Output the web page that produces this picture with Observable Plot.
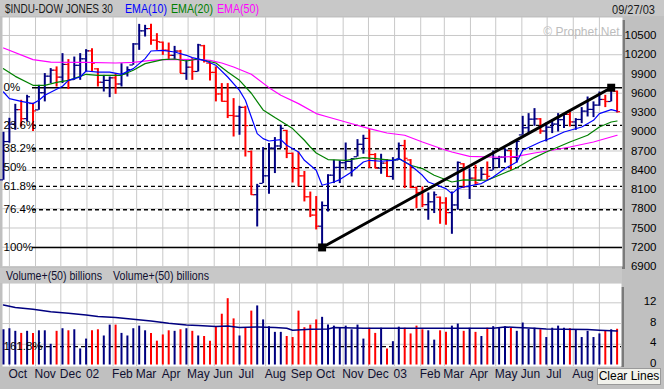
<!DOCTYPE html>
<html><head><meta charset="utf-8">
<script src="https://cdn.jsdelivr.net/npm/d3@7"></script>
<script src="https://cdn.jsdelivr.net/npm/@observablehq/plot@0.6"></script>
<style>
html,body{margin:0;padding:0;background:#c0c0c0;}
#wrap{position:relative;width:664px;height:389px;overflow:hidden;background:#c0c0c0;font-family:"Liberation Sans",Arial,sans-serif;}
.abs{position:absolute;}
#btn{left:597px;top:368px;width:64px;height:17px;background:#f2f2ec;border:1px solid #9a9a9a;box-sizing:border-box;font-size:12px;line-height:15px;text-align:center;color:#000;}
.fit{font-family:"Liberation Sans",Arial,sans-serif;font-size:12px;}
</style></head><body><div id="wrap">
<svg class="abs" style="left:0;top:0" width="664" height="16">
<rect width="664" height="16" fill="#c8c8c8"/>
<text class="fit" data-x="5" data-y="13" data-w="108" fill="#1a1a1a">$INDU-DOW JONES 30</text>
<text class="fit" data-x="125" data-y="13" data-w="42" fill="#0000ff">EMA(10)</text>
<text class="fit" data-x="171" data-y="13" data-w="42" fill="#008000">EMA(20)</text>
<text class="fit" data-x="217" data-y="13" data-w="42" fill="#ff00ff">EMA(50)</text>
<text class="fit" data-x="612" data-y="13.5" data-w="43" fill="#1a1a1a">09/27/03</text>
</svg>
<div class="abs" style="left:622px;top:20px;width:3px;height:249px;background:#7a7a7a"></div>
<div class="abs" id="price" style="left:0;top:16px"></div>
<svg class="abs" style="left:0;top:268px" width="622" height="15">
<rect width="622" height="15" fill="#c8c8c8"/>
<text class="fit" data-x="6" data-y="11.5" data-w="96" fill="#101030">Volume+(50) billions</text>
<text class="fit" data-x="113" data-y="11.5" data-w="96" fill="#101030">Volume+(50) billions</text>
</svg>
<div class="abs" style="left:621px;top:287px;width:3px;height:80px;background:#7a7a7a"></div>
<div class="abs" id="vol" style="left:0;top:283px"></div>
<div class="abs" id="btn">Clear Lines</div>
</div>
<script>
// ---- data (weekly bars, first week starting Mon 2001-09-24) ----
const firstWeek = "2001-09-24";
const highs = [8991,9209,9427,9490,9568,9443,9723,9906,9984,10010,
10217,10124,10164,10217,10279,10295,9984,9878,9853,9906,
10061,10010,10373,10673,10658,10673,10528,10398,10382,10330,
10268,10113,10139,10362,10346,10071,10010,9750,9750,9516,
9396,9396,8700,8180,8753,8815,8909,9100,9022,8669,
8684,8380,8060,7990,7906,8330,8555,8545,8824,8581,
8877,8945,9033,8659,8649,8566,8597,8824,8866,8566,
8139,8139,8046,8061,7983,7973,8061,8529,8503,8420,
8477,8441,8529,8700,8617,8736,8710,8866,9240,9282,
9360,9205,9136,9189,9282,9282,9323,9205,9376,9541,
9465,9619,9568,9690,9634];
const lows = [8244,8820,9022,9074,9152,9004,9334,9465,9750,9697,
9750,9657,9801,9801,9931,9931,9697,9619,9531,9583,
9697,9853,10035,10268,10476,10346,10268,10190,10124,10124,
9906,9801,9801,9931,10071,9791,9465,9465,9205,8918,
8945,8606,8010,7516,8192,8026,8348,8736,8581,8201,
8139,7906,7662,7470,7197,7750,8192,8192,8399,8296,
8606,8650,8426,8426,8337,8286,8244,8555,8114,8114,
7802,7817,7621,7725,7558,7543,7402,7776,8114,7945,
8166,8244,8244,8399,8426,8513,8399,8513,8945,8971,
9085,8960,8841,8971,8996,9049,9074,9022,9126,9230,
9220,9396,9376,9465,9292];
const opens = [8250,8847,9119,9344,9204,9440,9340,9608,9866,9959,
9851,10049,9812,10035,10136,10260,9980,9771,9800,9840,
9744,9903,10040,10368,10572,10607,10427,10395,10271,10190,
10257,9910,10006,9939,10340,10070,9925,9589,9474,9253,
9243,9380,8690,8019,8195,8313,8745,8778,9020,8663,
8427,8312,7986,7701,7528,7850,8323,8444,8517,8538,
8610,8804,8896,8645,8433,8511,8303,8560,8785,8560,
8131,8053,7864,7908,7980,7891,7740,7859,8500,8145,
8277,8245,8337,8400,8582,8604,8705,8601,8950,9062,
9196,9200,9011,9070,9119,9188,9270,9153,9191,9321,
9348,9415,9503,9471,9630];
const closes = [8847,9119,9344,9204,9545,9324,9608,9866,9959,9851,
10049,9812,10035,10136,10260,10068,9771,9800,9840,9744,
9903,9968,10368,10572,10607,10427,10404,10271,10190,10257,
9910,10006,9939,10353,10105,9925,9589,9474,9253,9243,
9380,9096,8019,8150,8313,8745,8778,9053,8663,8427,
8312,7986,7701,7528,7850,8323,8444,8517,8538,8579,
8804,8896,8645,8433,8511,8303,8560,8785,8586,8131,
8053,7864,7908,8018,7891,7740,7859,8522,8145,8277,
8203,8337,8306,8582,8604,8713,8601,8850,9062,9196,
9200,9011,9070,9119,9188,9270,9153,9191,9321,9348,
9415,9503,9471,9644,9313];
// volume, billions
const volumes = [6.8,7.0,6.5,6.1,6.5,6.1,6.6,6.6,4.0,6.5,
7.0,6.6,6.8,3.1,5.0,6.6,6.8,5.6,7.7,7.7,
6.1,5.6,7.0,7.5,6.6,6.1,4.6,5.8,6.6,6.5,
6.8,7.0,6.5,5.6,5.5,4.6,7.4,9.8,12.8,8.9,
5.6,7.1,10.4,11.4,8.7,7.4,6.3,6.3,5.5,5.3,
10.4,7.2,7.7,8.7,9.2,7.7,7.5,7.1,7.5,6.8,
7.7,5.0,7.1,6.1,7.1,3.1,4.5,7.3,7.1,6.0,
7.5,6.8,6.6,4.8,6.6,6.3,7.5,7.9,6.5,7.1,
6.3,5.5,7.1,7.4,7.2,7.4,7.1,6.5,8.1,6.9,
7.1,6.8,5.3,7.1,7.5,7.1,7.0,6.8,5.3,6.5,
5.3,6.0,6.6,6.8,6.9];
// moving averages: [week index, value]
const ema10 = [[0,9619],[1,9516],[3,9474],[5,9438],[6,9490],[7,9568],[10,9708],[11,9801],[13,9853],[14,9946],[16,9930],[18,9930],[20,9895],[22,9983],[24,10139],[25,10258],[27,10268],[29,10242],[31,10191],[32,10155],[34,10113],[36,10035],[38,9853],[40,9645],[41,9490],[42,9230],[43,8971],[44,8893],[45,8856],[47,8878],[48,8789],[50,8684],[51,8555],[53,8399],[54,8166],[56,8217],[57,8254],[59,8373],[61,8529],[62,8555],[64,8540],[66,8555],[67,8582],[69,8477],[71,8321],[72,8217],[75,8114],[76,8036],[77,8114],[78,8139],[81,8192],[83,8295],[85,8426],[87,8529],[88,8711],[91,8840],[93,8909],[95,8996],[98,9074],[100,9178],[101,9283],[103,9345],[104,9320]];
const ema20 = [[0,9983],[2,9863],[5,9723],[7,9723],[9,9770],[11,9801],[13,9863],[14,9895],[16,9879],[20,9879],[22,9957],[24,10061],[27,10124],[29,10133],[31,10102],[33,10133],[36,10071],[38,9930],[40,9801],[42,9600],[43,9470],[44,9340],[46,9220],[49,9049],[51,8867],[52,8762],[53,8669],[55,8566],[58,8555],[61,8597],[63,8582],[66,8555],[67,8582],[69,8477],[71,8426],[73,8321],[76,8217],[78,8251],[82,8244],[84,8321],[87,8438],[90,8597],[92,8684],[94,8762],[96,8840],[99,8945],[101,9074],[103,9152],[104,9167]];
const ema50 = [[0,10304],[5,10124],[8,10086],[14,10082],[19,10071],[22,10082],[25,10113],[28,10128],[33,10124],[35,10113],[37,10071],[39,10008],[42,9895],[45,9687],[47,9568],[50,9438],[53,9283],[55,9230],[58,9152],[62,9049],[65,8980],[68,8945],[71,8840],[75,8711],[76,8684],[79,8617],[84,8602],[87,8617],[90,8669],[93,8711],[96,8762],[100,8840],[104,8945]];
const volAvg = [[0,11.6],[2,11.1],[5,10.75],[8,10.3],[11,10.0],[14,9.67],[16,9.35],[19,9.16],[22,8.83],[25,8.51],[28,8.06],[31,7.74],[33,7.61],[36,7.41],[38,7.54],[40,7.22],[43,7.35],[46,7.22],[48,7.09],[49,6.71],[52,6.9],[55,6.96],[56,7.22],[61,7.09],[67,7.09],[73,7.09],[78,7.09],[83,7.09],[85,7.35],[87,7.22],[90,7.09],[92,6.96],[95,6.9],[99,6.84],[101,6.71],[104,6.58]];
// Fibonacci retracement levels and trendline
const fibLabels = ["0%","23.6%","38.2%","50%","61.8%","76.4%","100%"];
const fibValues = [9686,9099,8735,8441,8148,7784,7197];
const fibSolid = [true,false,false,false,false,false,true];
const volFibLabels = ["161.8%"];
const volFibValues = [3.55];
const trendIdx = [54,103];
const trendVals = [7197,9686];
// axis ticks
const priceTicks = [6900,7200,7500,7800,8100,8400,8700,9000,9300,9600,9900,10200,10500];
const volTicks = [0,4,8,12];
const monthFrom = "2001-10-01", monthTo = "2003-10-01";

// ---- header text fitting ----
document.querySelectorAll("text.fit").forEach(t => {
  const x = +t.dataset.x, y = +t.dataset.y, w = +t.dataset.w;
  const natural = t.getComputedTextLength() || w;
  t.setAttribute("transform", `translate(${x},${y}) scale(${w / natural},1)`);
});

// ---- build ----
const NAVY = "#000080", RED = "#ff0000";
const start = new Date(firstWeek + "T00:00:00Z");
const dates = closes.map((_, i) => d3.utcDay.offset(start, 7 * i));
const bars = dates.map((date, i) => ({
  date, open: opens[i], high: highs[i], low: lows[i], close: closes[i], vol: volumes[i],
  color: (i === 0 ? closes[i] >= opens[i] : closes[i] >= closes[i - 1]) ? NAVY : RED
}));
const pts = arr => arr.map(([i, v]) => ({date: dates[i], v}));
const fib = fibValues.map((v, k) => ({v, label: fibLabels[k], solid: fibSolid[k]}));
const volFib = volFibValues.map((v, k) => ({v, label: volFibLabels[k]}));
const trend = trendIdx.map((i, k) => ({date: dates[i], v: trendVals[k]}));
const months = d3.utcMonth.range(new Date(monthFrom + "T00:00:00Z"), new Date(monthTo + "T00:00:00Z"));
const monthFmt = d => d.getUTCMonth() === 0 ? d3.utcFormat("%y")(d) : d3.utcFormat("%b")(d);
const xCfg = () => ({type: "utc", domain: [dates[0], dates[dates.length - 1]], range: [3, 616.6], axis: null});
const font = "Liberation Sans, Arial, sans-serif";
const GRID = "#c8c8c8";

const price = Plot.plot({
  width: 664, height: 252,
  marginLeft: 2, marginRight: 42, marginTop: 1, marginBottom: 2,
  x: xCfg(),
  y: {domain: [6900, 10780], axis: null},
  color: {type: "identity"},
  style: {background: "transparent", fontFamily: font, overflow: "visible"},
  marks: [
    Plot.frame({fill: "white", stroke: "none"}),
    Plot.ruleY(priceTicks, {stroke: GRID}),
    Plot.ruleX(months, {stroke: GRID}),
    Plot.text(["© Prophet.Net"], {frameAnchor: "top-right", dx: -3, dy: 10, textAnchor: "end", fill: "#bdbdbd", fontSize: 12}),
    Plot.ruleY(fib.filter(d => d.solid), {y: "v", stroke: "black", strokeWidth: 1.5, insetLeft: 30}),
    Plot.ruleY(fib.filter(d => !d.solid), {y: "v", stroke: "black", strokeWidth: 1.3, strokeDasharray: "4,3", insetLeft: 30}),
    Plot.ruleX(bars, {x: "date", y1: "low", y2: "high", stroke: "color", strokeWidth: 2}),
    Plot.ruleY(bars, {y: "open", x1: d => d3.utcDay.offset(d.date, -4), x2: "date", stroke: "color", strokeWidth: 1.2}),
    Plot.ruleY(bars, {y: "close", x1: "date", x2: d => d3.utcDay.offset(d.date, 4), stroke: "color", strokeWidth: 1.2}),
    Plot.line(pts(ema50), {x: "date", y: "v", stroke: "#ff00ff", strokeWidth: 1.2}),
    Plot.line(pts(ema20), {x: "date", y: "v", stroke: "#008000", strokeWidth: 1.2}),
    Plot.line(pts(ema10), {x: "date", y: "v", stroke: "#0000ff", strokeWidth: 1.2}),
    Plot.line(trend, {x: "date", y: "v", stroke: "black", strokeWidth: 3}),
    Plot.dot(trend, {x: "date", y: "v", symbol: "square", r: 4.5, fill: "black", stroke: "none"}),
    Plot.text(fib, {y: "v", text: "label", frameAnchor: "left", dx: 1, textAnchor: "start", fontSize: 11.5, fill: "black"}),
    Plot.text(priceTicks, {y: d => d, text: d => String(d), frameAnchor: "right", dx: 34, textAnchor: "end", fontSize: 11.5, fill: "black"})
  ]
});
document.getElementById("price").appendChild(price);

const vol = Plot.plot({
  width: 664, height: 106,
  marginLeft: 2, marginRight: 43, marginTop: 0, marginBottom: 23,
  x: xCfg(),
  y: {domain: [0, 16], range: [81.5, -1.4], axis: null},
  color: {type: "identity"},
  style: {background: "transparent", fontFamily: font, overflow: "visible"},
  marks: [
    Plot.frame({fill: "white", stroke: "none"}),
    Plot.ruleY(volTicks.filter(d => d > 0), {stroke: GRID}),
    Plot.ruleX(months, {stroke: GRID}),
    Plot.ruleY(volFib, {y: "v", stroke: "black", strokeWidth: 1.3, strokeDasharray: "4,3", insetLeft: 30}),
    Plot.ruleX(bars, {x: "date", y1: 0, y2: "vol", stroke: "color", strokeWidth: 2}),
    Plot.line(pts(volAvg), {x: "date", y: "v", stroke: NAVY, strokeWidth: 1.5}),
    Plot.text(volFib, {y: "v", text: "label", frameAnchor: "left", dx: 1, textAnchor: "start", fontSize: 11.5, fill: "black"}),
    Plot.text(volTicks, {y: d => d, text: d => String(d), frameAnchor: "right", dx: 35, dy: -1.5, textAnchor: "end", fontSize: 11.5, fill: "black"}),
    Plot.text(months, {x: d => d, text: monthFmt, frameAnchor: "bottom", dy: 11, dx: -1, textAnchor: "start", fontSize: 12, fill: "#101030"})
  ]
});
document.getElementById("vol").appendChild(vol);
</script>
</body></html>
